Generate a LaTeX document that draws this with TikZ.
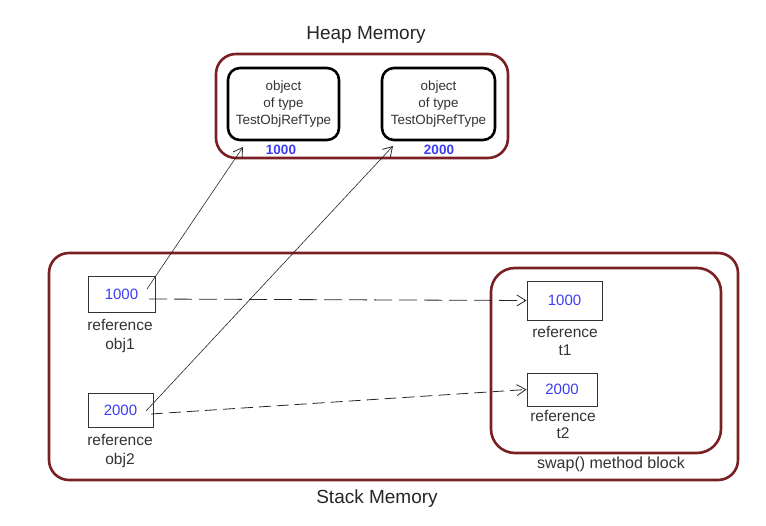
\documentclass[tikz,border=0pt]{standalone}
\usepackage{fontspec}
\setmainfont{Liberation Sans}
\usetikzlibrary{arrows.meta}
\definecolor{frame}{HTML}{7A1F22}
\definecolor{txt}{HTML}{333333}
\definecolor{num}{HTML}{3B3BF5}
\begin{document}
\begin{tikzpicture}[x=1pt,y=-1pt,
  region/.style={draw=frame,line width=2.6pt,rounded corners=20pt},
  objbox/.style={draw=black,line width=2.6pt,rounded corners=12pt,align=center,text=txt,inner sep=1pt,font=\fontsize{13.4}{17}\selectfont},
  refbox/.style={draw=black!80,line width=0.9pt,text=num,font=\fontsize{15}{16}\selectfont},
  lbl/.style={text=txt,align=center,font=\fontsize{15.5}{19}\selectfont},
  title/.style={text=black!85,font=\fontsize{19}{20}\selectfont},
  hnum/.style={text=num,font=\fontsize{13.5}{14}\selectfont\bfseries},
  ptr/.style={draw=black!85,line width=0.6pt,-{Straight Barb[length=9pt,width=11pt,line width=0.8pt]}},
  dashptr/.style={ptr,line width=0.8pt,dash pattern=on 18pt off 7pt}]
\useasboundingbox (0,0) rectangle (766,526);
% heap
\node[title] (heapt) at (366,35) {Heap Memory};
\draw[region] (216,54) rectangle (508,158);
\node[objbox,minimum width=111pt,minimum height=72pt] (o1) at (283.5,104) {object\\of type\\TestObjRefType};
\node[objbox,minimum width=113pt,minimum height=72pt] (o2) at (438.5,104) {object\\of type\\TestObjRefType};
\node[hnum] (h1) at (281,150) {1000};
\node[hnum] (h2) at (439,150) {2000};
% stack
\draw[region] (49,253) rectangle (738,480);
\node[title] (stackt) at (377,499) {Stack Memory};
\draw[region,rounded corners=24pt] (491,268) rectangle (721,453);
\node[text=txt,font=\fontsize{16}{18}\selectfont] (swapt) at (611,464) {swap() method block};
% stack refs
\node[refbox,minimum width=67pt,minimum height=36pt] (r1) at (121.5,294) {1000};
\node[lbl] (l1) at (120,336) {reference\\obj1};
\node[refbox,minimum width=65pt,minimum height=34pt] (r2) at (120.5,410) {2000};
\node[lbl] (l2) at (120,451) {reference\\obj2};
\node[refbox,minimum width=75pt,minimum height=39pt] (t1) at (564.5,300.5) {1000};
\node[lbl,font=\fontsize{15.5}{18}\selectfont] (lt1) at (565,341) {reference\\t1};
\node[refbox,minimum width=70pt,minimum height=33pt] (t2) at (562,389.5) {2000};
\node[lbl,font=\fontsize{15.5}{17}\selectfont] (lt2) at (563,424) {reference\\t2};
% pointer ends
\coordinate (s1) at (147,289);
\coordinate (s2) at (146,411);
\coordinate (e1) at (243,147);
\coordinate (e2) at (393,146);
\coordinate (d1) at (149,299);
\coordinate (d2) at (151,414);
\draw[ptr] (s1) -- (e1);
\draw[ptr] (s2) -- (e2);
\draw[dashptr] (d1) -- (t1.west);
\draw[dashptr,dash pattern=on 12pt off 6pt] (d2) -- (t2.west);
\end{tikzpicture}
\end{document}
